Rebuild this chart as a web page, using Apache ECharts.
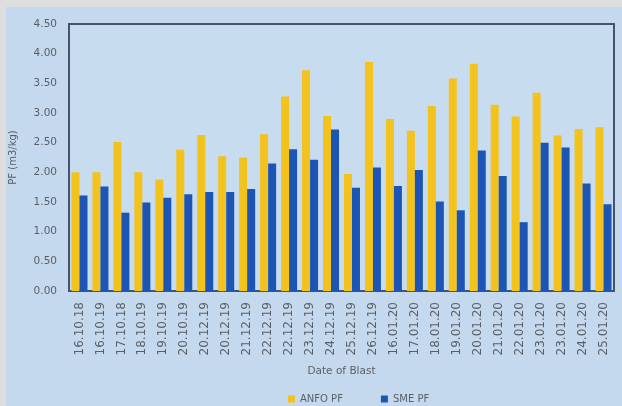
<!DOCTYPE html>
<html>
<head>
<meta charset="utf-8">
<script src="https://cdn.jsdelivr.net/npm/echarts@6/dist/echarts.min.js"></script>
<style>
html,body{margin:0;padding:0;background:#dedede;}
#c{width:622px;height:406px;}
</style>
</head>
<body>
<div id="c"></div>
<script>
const categories = ["16.10.18","16.10.19","17.10.18","18.10.19","19.10.19","20.10.19","20.12.19","20.12.19","21.12.19","22.12.19","22.12.19","23.12.19","24.12.19","25.12.19","26.12.19","16.01.20","17.01.20","18.01.20","19.01.20","20.01.20","21.01.20","22.01.20","23.01.20","23.01.20","24.01.20","25.01.20"];
const anfoPF = [2.00,2.00,2.51,2.00,1.88,2.38,2.63,2.27,2.25,2.64,3.28,3.72,2.95,1.97,3.86,2.90,2.70,3.12,3.58,3.83,3.14,2.94,3.34,2.62,2.73,2.76];
const smePF  = [1.61,1.76,1.32,1.49,1.57,1.63,1.67,1.67,1.72,2.15,2.39,2.21,2.72,1.74,2.08,1.77,2.04,1.51,1.36,2.37,1.94,1.16,2.50,2.42,1.81,1.46];
const seriesNames = ["ANFO PF","SME PF"];
const yTicks = {min:0, max:4.5, interval:0.5};

const chart = echarts.init(document.getElementById('c'), null, {renderer:'canvas'});
const font = "DejaVu Sans";
const txt = '#5a5f66';
chart.setOption({
  backgroundColor: '#dedede',
  animation: false,
  textStyle: {fontFamily: font},
  graphic: [{
    type: 'rect', z: -10, silent: true,
    shape: {x: 6, y: 7, width: 616, height: 399},
    style: {fill: '#c5d9ee'}
  }],
  grid: {
    left: 69, right: 8, top: 24, bottom: 115,
    show: true, backgroundColor: '#c8dcf0', borderColor: '#44546a', borderWidth: 2
  },
  legend: {
    top: 389, left: 283,
    itemWidth: 7, itemHeight: 7, itemGap: 38, icon: 'rect',
    textStyle: {color: txt, fontSize: 10, fontFamily: font},
    data: seriesNames
  },
  xAxis: {
    type: 'category', data: categories,
    name: 'Date of Blast', nameLocation: 'middle', nameGap: 75,
    nameTextStyle: {color: txt, fontSize: 10.5, fontFamily: font},
    axisLine: {show: true, lineStyle: {color: '#44546a', width: 2}},
    axisTick: {show: false},
    axisLabel: {rotate: 90, color: txt, fontSize: 12, margin: 11, fontFamily: font, interval: 0}
  },
  yAxis: {
    type: 'value', min: yTicks.min, max: yTicks.max, interval: yTicks.interval,
    name: 'PF (m3/kg)', nameLocation: 'middle', nameGap: 51,
    nameTextStyle: {color: txt, fontSize: 10, fontFamily: font},
    axisLine: {show: false}, axisTick: {show: false},
    splitLine: {show: false},
    axisLabel: {color: txt, fontSize: 10.5, margin: 12, fontFamily: font, formatter: v => v.toFixed(2)}
  },
  series: [
    {name: seriesNames[0], type: 'bar', data: anfoPF, barWidth: 8, barGap: '0%',
     itemStyle: {color: '#f4c21c'}},
    {name: seriesNames[1], type: 'bar', data: smePF, barWidth: 8,
     itemStyle: {color: '#1c55b4'}}
  ]
});
</script>
</body>
</html>
